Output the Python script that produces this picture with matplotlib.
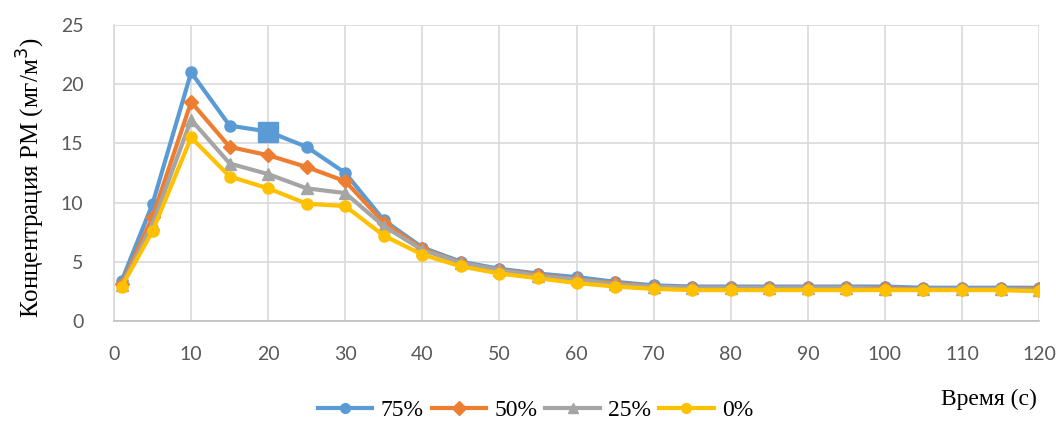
import matplotlib
matplotlib.use("Agg")
import matplotlib.pyplot as plt
from matplotlib.lines import Line2D

# Time points (s)
time_s = [1, 5, 10, 15, 20, 25, 30, 35, 40, 45, 50, 55, 60, 65, 70, 75, 80,
          85, 90, 95, 100, 105, 110, 115, 120]

# PM concentration (mg/m^3) per humidity level
pm_75 = [3.4, 9.9, 21.0, 16.5, 16.0, 14.7, 12.5, 8.5, 6.2, 5.0, 4.4, 4.0, 3.7,
         3.3, 3.0, 2.9, 2.9, 2.9, 2.9, 2.9, 2.9, 2.8, 2.8, 2.8, 2.8]
pm_50 = [3.1, 8.8, 18.5, 14.7, 14.0, 13.0, 11.8, 8.3, 6.1, 4.9, 4.3, 3.9, 3.5,
         3.2, 2.9, 2.8, 2.8, 2.8, 2.8, 2.8, 2.8, 2.7, 2.7, 2.7, 2.7]
pm_25 = [3.0, 8.2, 17.0, 13.3, 12.4, 11.2, 10.8, 8.0, 6.0, 4.9, 4.3, 3.8, 3.5,
         3.1, 2.9, 2.8, 2.8, 2.8, 2.8, 2.8, 2.7, 2.7, 2.7, 2.7, 2.6]
pm_0 = [2.9, 7.6, 15.5, 12.2, 11.2, 9.9, 9.7, 7.2, 5.6, 4.6, 4.0, 3.6, 3.2,
        2.9, 2.7, 2.6, 2.6, 2.6, 2.6, 2.6, 2.6, 2.6, 2.6, 2.6, 2.5]

series_labels = ["75%", "50%", "25%", "0%"]
series_values = [pm_75, pm_50, pm_25, pm_0]
series_colors = ["#5B9BD5", "#ED7D31", "#A5A5A5", "#FFC000"]
series_markers = ["o", "D", "^", "o"]

x_ticks = list(range(0, 121, 10))
y_ticks = [0, 5, 10, 15, 20, 25]

fig = plt.figure(figsize=(10.56, 4.25), dpi=100)
ax = fig.add_axes([0.108, 0.245, 0.876, 0.696])

for vals, col, mk, lab in zip(series_values, series_colors, series_markers, series_labels):
    ms = 8 if mk != "D" else 7
    ax.plot(time_s, vals, color=col, lw=3, marker=mk, ms=ms, mec=col, mfc=col,
            label=lab, solid_joinstyle="round", zorder=3)

# highlighted point on the 75% curve
hi = time_s.index(20)
ax.plot(time_s[hi], pm_75[hi], marker="s", ms=14, color=series_colors[0],
        mec=series_colors[0], zorder=4)

ax.set_xlim(0, 120)
ax.set_ylim(0, 25)
ax.set_xticks(x_ticks)
ax.set_yticks(y_ticks)
ax.grid(True, color="#D9D9D9", lw=1.2)
ax.set_axisbelow(True)
for s in ["top", "right"]:
    ax.spines[s].set_visible(False)
ax.spines["left"].set_color("#D9D9D9")
ax.spines["bottom"].set_color("#BFBFBF")
ax.spines["left"].set_linewidth(1.2)
ax.spines["bottom"].set_linewidth(1.2)
ax.tick_params(axis="x", length=0, labelsize=14, labelcolor="#595959", pad=18,
               labelfontfamily="Lato")
ax.tick_params(axis="y", length=0, labelsize=14, labelcolor="#595959", pad=22,
               labelfontfamily="Lato")

fig.text(0.029, 0.581, "Концентрация PM (мг/м$^3$)", family="Liberation Serif",
         fontsize=18, rotation=90, ha="center", va="center")
fig.text(0.982, 0.035, "Время (с)", family="Liberation Serif", fontsize=17,
         ha="right", va="bottom")

handles = [Line2D([0], [0], color=c, lw=3, marker=m, ms=7, mec=c, mfc=c)
           for c, m in zip(series_colors, series_markers)]
fig.legend(handles, series_labels, loc="center", bbox_to_anchor=(0.507, 0.035),
           ncol=4, frameon=False, handlelength=2.3, handletextpad=0.35,
           columnspacing=0.35, borderpad=0.0,
           prop={"family": "Liberation Serif", "size": 17})

fig.savefig("out.png", dpi=100)
